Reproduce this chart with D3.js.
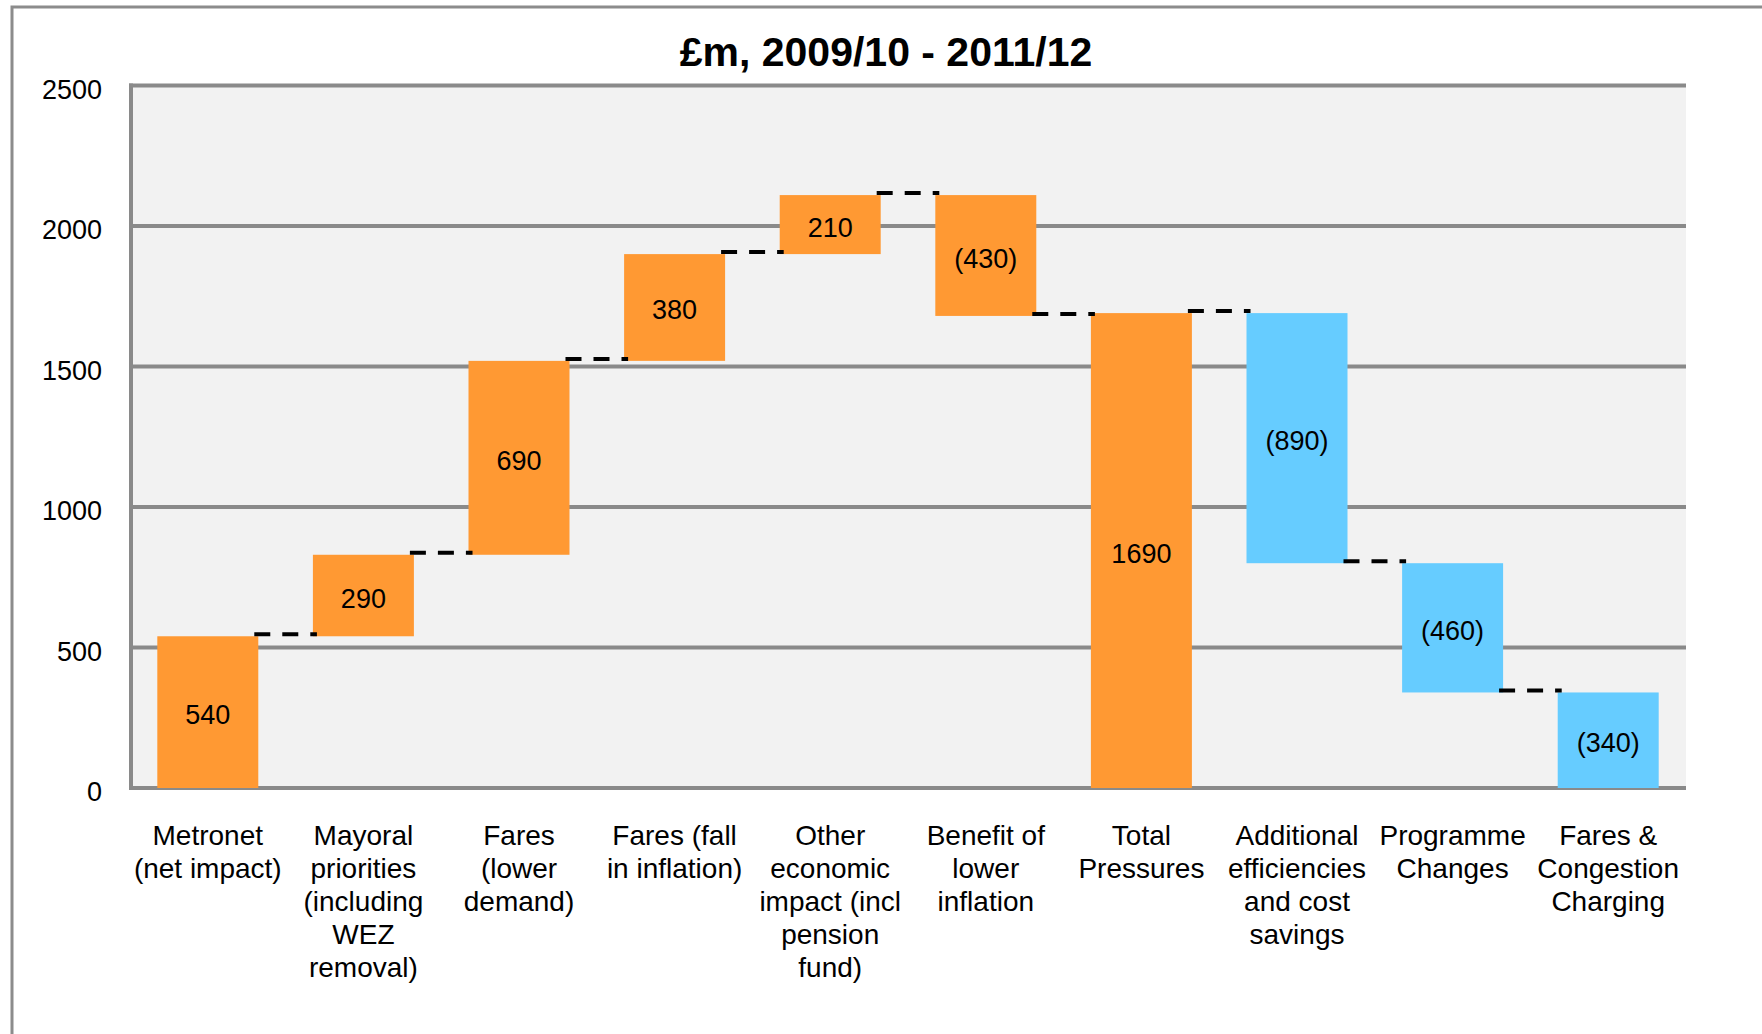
<!DOCTYPE html>
<html>
<head>
<meta charset="utf-8">
<script src="https://cdn.jsdelivr.net/npm/d3@7"></script>
<style>
  html, body { margin: 0; padding: 0; background: #ffffff; }
  svg { display: block; }
  text { font-family: "Liberation Sans", Arial, sans-serif; fill: #000; }
</style>
</head>
<body>
<svg id="chart" width="1762" height="1034"></svg>
<script>
// ---------------- data ----------------
const title = "£m, 2009/10 - 2011/12";
const categories = [
  ["Metronet", "(net impact)"],
  ["Mayoral", "priorities", "(including", "WEZ", "removal)"],
  ["Fares", "(lower", "demand)"],
  ["Fares (fall", "in inflation)"],
  ["Other", "economic", "impact (incl", "pension", "fund)"],
  ["Benefit of", "lower", "inflation"],
  ["Total", "Pressures"],
  ["Additional", "efficiencies", "and cost", "savings"],
  ["Programme", "Changes"],
  ["Fares &", "Congestion", "Charging"]
];
const values = [540, 290, 690, 380, 210, -430, 1690, -890, -460, -340];
const isTotal = [false, false, false, false, false, false, true, false, false, false];
const groups = ["pressure", "pressure", "pressure", "pressure", "pressure", "pressure", "pressure", "saving", "saving", "saving"];
const yTicks = [0, 500, 1000, 1500, 2000, 2500];

// ---------------- layout ----------------
const W = 1762, H = 1034;
const plot = { left: 130, right: 1686, top: 85.5, bottom: 788 };
const colorMap = { pressure: "#FF9933", saving: "#66CCFF" };
const gridColor = "#8a8a8a";

const svg = d3.select("#chart");

// compute waterfall segments
let running = 0;
const bars = values.map((v, i) => {
  let start, end;
  if (isTotal[i]) { start = 0; end = v; }
  else { start = running; end = running + v; }
  running = end;
  return { i, v, start, end, cat: categories[i], group: groups[i] };
});

const x = d3.scaleBand()
  .domain(d3.range(categories.length))
  .range([plot.left, plot.right])
  .paddingInner(0.351)
  .paddingOuter(0.1755);

const y = d3.scaleLinear().domain([0, 2500]).range([plot.bottom, plot.top]);

// outer frame
svg.append("rect")
  .attr("x", 12).attr("y", 7)
  .attr("width", 1800).attr("height", 1100)
  .attr("fill", "none").attr("stroke", "#8c8c8c").attr("stroke-width", 3);

// title
svg.append("text")
  .attr("x", 886).attr("y", 66)
  .attr("text-anchor", "middle")
  .attr("font-size", 41).attr("font-weight", "bold")
  .text(title);

// plot background
svg.append("rect")
  .attr("x", plot.left).attr("y", plot.top)
  .attr("width", plot.right - plot.left).attr("height", plot.bottom - plot.top)
  .attr("fill", "#f2f2f2");

// gridlines
svg.append("g").selectAll("line").data(yTicks).join("line")
  .attr("x1", plot.left - 1).attr("x2", plot.right)
  .attr("y1", d => y(d)).attr("y2", d => y(d))
  .attr("stroke", gridColor).attr("stroke-width", 4);

// left axis line
svg.append("line")
  .attr("x1", plot.left + 1).attr("x2", plot.left + 1)
  .attr("y1", plot.top - 2).attr("y2", plot.bottom + 2)
  .attr("stroke", gridColor).attr("stroke-width", 4);

// y tick labels
svg.append("g").selectAll("text").data(yTicks).join("text")
  .attr("x", 102).attr("y", d => y(d) + 13)
  .attr("text-anchor", "end")
  .attr("font-size", 27)
  .text(d => d);

// bars
svg.append("g").selectAll("rect").data(bars).join("rect")
  .attr("x", d => x(d.i))
  .attr("width", x.bandwidth())
  .attr("y", d => y(Math.max(d.start, d.end)))
  .attr("height", d => Math.abs(y(d.start) - y(d.end)))
  .attr("fill", d => colorMap[d.group]);

// connectors
const conns = bars.slice(0, -1).map((d, k) => ({ from: d, to: bars[k + 1], level: d.end }));
svg.append("g").selectAll("line").data(conns).join("line")
  .attr("x1", d => x(d.from.i) + x.bandwidth() - 4)
  .attr("x2", d => x(d.to.i) + 4)
  .attr("y1", d => y(d.level) - 2).attr("y2", d => y(d.level) - 2)
  .attr("stroke", "#000").attr("stroke-width", 4)
  .attr("stroke-dasharray", "16,12");

// value labels
const fmt = v => v < 0 ? "(" + Math.abs(v) + ")" : String(v);
svg.append("g").selectAll("text").data(bars).join("text")
  .attr("x", d => x(d.i) + x.bandwidth() / 2)
  .attr("y", d => (y(d.start) + y(d.end)) / 2 + 12)
  .attr("text-anchor", "middle")
  .attr("font-size", 27)
  .text(d => fmt(d.v));

// category labels
const catG = svg.append("g").selectAll("text").data(bars).join("text")
  .attr("x", d => x(d.i) + x.bandwidth() / 2)
  .attr("y", 845)
  .attr("text-anchor", "middle")
  .attr("font-size", 28);
catG.selectAll("tspan").data(d => d.cat.map(line => ({ line, cx: x(d.i) + x.bandwidth() / 2 })))
  .join("tspan")
  .attr("x", t => t.cx)
  .attr("dy", (t, j) => j === 0 ? 0 : 33)
  .text(t => t.line);
</script>
</body>
</html>
